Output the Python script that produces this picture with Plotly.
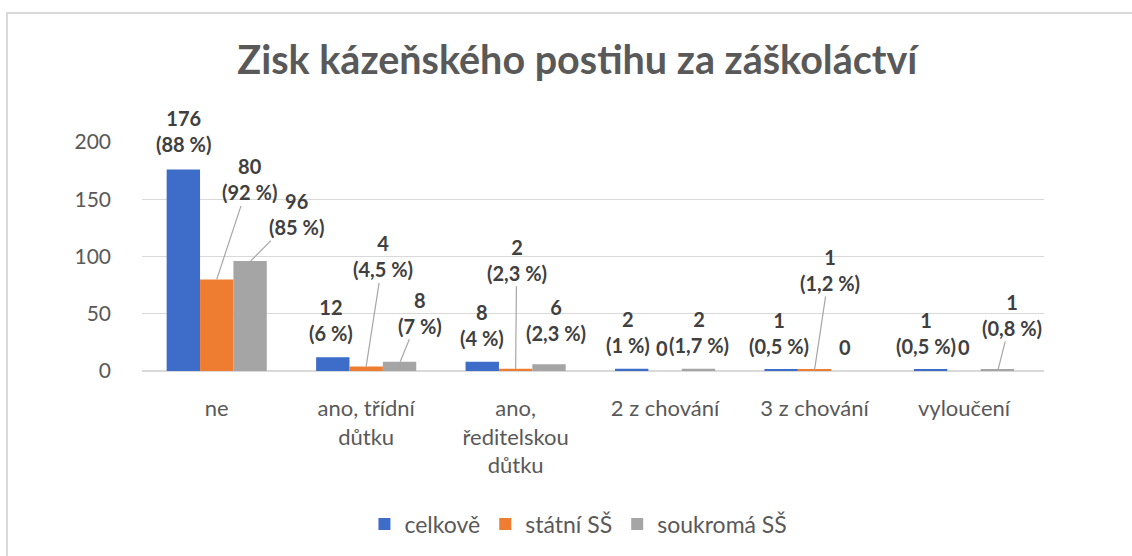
import plotly.graph_objects as go

categories = ["ne", "ano, třídní<br>důtku", "ano,<br>ředitelskou<br>důtku",
              "2 z chování", "3 z chování", "vyloučení"]
series_names = ["celkově", "státní SŠ", "soukromá SŠ"]
celkove = [176, 12, 8, 2, 1, 1]
statni = [80, 4, 2, 0, 1, 0]
soukroma = [96, 8, 6, 2, 0, 1]
celkove_pct = ["88 %", "6 %", "4 %", "1 %", "0,5 %", "0,5 %"]
statni_pct = ["92 %", "4,5 %", "2,3 %", None, "1,2 %", None]
soukroma_pct = ["85 %", "7 %", "2,3 %", "1,7 %", None, "0,8 %"]
y_ticks = [0, 50, 100, 150, 200]

colors = ["#3D6CC9", "#EE7D31", "#A5A5A5"]
FONT = "Lato"
TXT = "#595959"
LBL = "#404040"
BAR_PX = 34  # horizontal offset of neighbouring bars in px

# label placement (dx, dy px relative to bar top centre, leader line?)
label_pos = [
    [(1, -38, False), (-1, -37, False), (0, -37, False), (-3, -37, False), (-2, -37, False), (-4, -37, False)],
    [(33, -100, True), (17, -110, True), (1, -109, True), (-3, -23, False), (15, -100, True), (0, -24, False)],
    [(46, -47, True), (20, -49, True), (6, -44, False), (0, -37, False), (-4, -24, False), (14, -55, True)],
]

values = [celkove, statni, soukroma]
pcts = [celkove_pct, statni_pct, soukroma_pct]

fig = go.Figure()
for s, name in enumerate(series_names):
    fig.add_trace(go.Bar(
        x=categories, y=values[s], name=name,
        marker=dict(color=colors[s], line=dict(width=0)),
    ))

annotations = []
for s in range(3):
    for i, cat in enumerate(categories):
        v = values[s][i]
        p = pcts[s][i]
        text = f"{v}<br>({p})" if p else f"{v}"
        dx, dy, leader = label_pos[s][i]
        off = (s - 1) * BAR_PX
        common = dict(x=cat, y=v, xref="x", yref="y", text=text,
                      font=dict(family=FONT, size=20, color=LBL, weight="bold"),
                      align="center")
        if leader:
            annotations.append(dict(**common, showarrow=True, arrowhead=0,
                                    arrowwidth=1.2, arrowcolor="#A6A6A6",
                                    standoff=0, ax=dx, ay=dy, xshift=off))
        else:
            annotations.append(dict(**common, showarrow=False,
                                    xshift=off + dx, yshift=-dy,
                                    xanchor="center", yanchor="middle"))

fig.update_layout(
    width=1132, height=556,
    margin=dict(l=142, r=88, t=142, b=185),
    paper_bgcolor="white", plot_bgcolor="white",
    barmode="group", bargap=0.33, bargroupgap=0,
    title=dict(text="Zisk kázeňského postihu za záškoláctví",
               x=0.51, xref="container", xanchor="center",
               y=0.892, yref="container", yanchor="middle",
               font=dict(family=FONT, size=39.5, color=TXT, weight="bold")),
    font=dict(family=FONT, color=TXT),
    showlegend=True,
    legend=dict(orientation="h", xref="container", yref="container",
                x=0.511, y=0.0576, xanchor="center", yanchor="middle",
                font=dict(family=FONT, size=23, color=TXT),
                itemwidth=30, traceorder="normal"),
    annotations=annotations,
    shapes=[dict(type="rect", xref="paper", yref="paper",
                 x0=(7 - 142) / 902, x1=1.5, y0=-2, y1=(371 - 13) / 229,
                 line=dict(color="#D9D9D9", width=2), fillcolor="rgba(0,0,0,0)",
                 layer="below")],
)
fig.update_xaxes(showgrid=False, showline=False, ticks="",
                 tickfont=dict(family=FONT, size=22, color=TXT),
                 ticklabelstandoff=22, fixedrange=True)
fig.update_yaxes(range=[0, 200], tickvals=y_ticks, showgrid=True,
                 gridcolor="#D9D9D9", gridwidth=1, zeroline=True,
                 zerolinecolor="#D9D9D9", zerolinewidth=2, showline=False,
                 tickfont=dict(family=FONT, size=21, color=TXT),
                 ticklabelstandoff=30, fixedrange=True)

fig.write_html("out.html", config={"displayModeBar": False},
               post_script="document.body.style.margin='0';")
